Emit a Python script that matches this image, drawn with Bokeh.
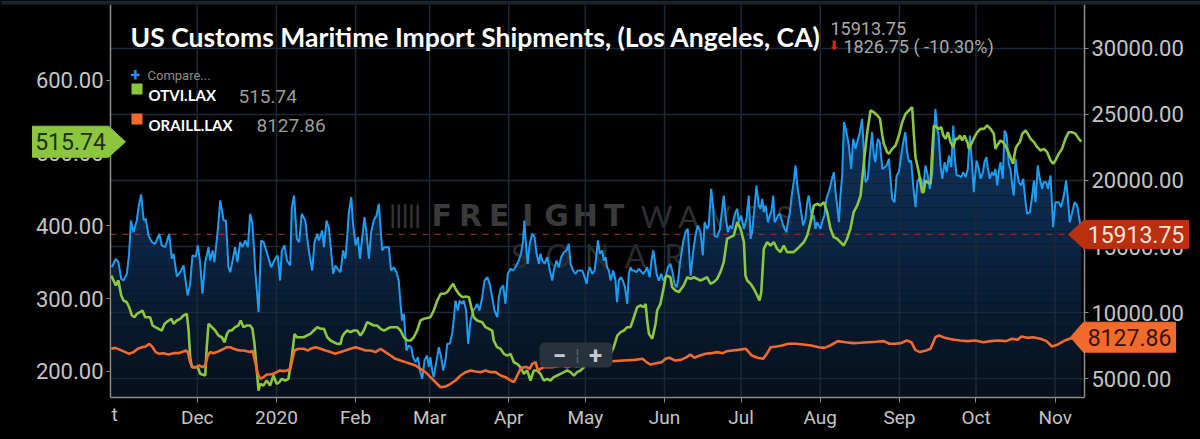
import numpy as np
import pandas as pd
from bokeh.plotting import figure
from bokeh.models import (Range1d, LinearAxis, FixedTicker, NumeralTickFormatter,
                          Label, PolyAnnotation, BoxAnnotation)
from bokeh.embed import file_html
from bokeh.resources import INLINE

try:
    from bokeh.models import GlobalInlineStyleSheet
except Exception:
    GlobalInlineStyleSheet = None

# ---------------- data ----------------
START = pd.Timestamp("2019-10-28")          # left edge of the plot area
END = pd.Timestamp("2020-11-12 12:00")      # right edge of the plot area

month_ticks = ["2019-12-01", "2020-01-01", "2020-02-01", "2020-03-01", "2020-04-01", "2020-05-01",
               "2020-06-01", "2020-07-01", "2020-08-01", "2020-09-01", "2020-10-01", "2020-11-01"]
month_labels = ["Dec", "2020", "Feb", "Mar", "Apr", "May", "Jun", "Jul", "Aug", "Sep", "Oct", "Nov"]

left_ticks = [200, 300, 400, 500, 600]
right_ticks = [5000, 10000, 15000, 20000, 25000, 30000]
left_range = (164.0, 704.5)
right_range = (3561.0, 33333.0)

TITLE = "US Customs Maritime Import Shipments, (Los Angeles, CA)"
LAST_SHIP = 15913.75
CHANGE = "1826.75 ( -10.30%)"
LAST_OTVI = 515.74
LAST_ORAIL = 8127.86

# days since 2019-10-28
blue_days = [0.5, 2.1, 3.1, 4.2, 5.1, 6.4, 7.3, 8.0, 9.0, 10.3, 11.0, 12.0, 13.0, 13.8, 14.9, 16.2, 17.5,
             19.1, 20.1, 21.4, 23.0, 24.0, 24.7, 26.0, 27.3, 28.6, 30.2, 31.2, 32.1, 33.4, 34.2, 35.1, 36.0,
             37.1, 38.4, 39.0, 40.0, 40.7, 42.0, 43.0, 44.3, 45.2, 46.2, 46.9, 47.8, 48.8, 49.7, 50.8, 51.7,
             52.8, 53.8, 54.7, 55.6, 56.7, 58.0, 59.0, 60.0, 61.2, 62.9, 64.5, 65.5, 66.4, 67.1, 68.2, 69.1,
             70.4, 71.0, 71.9, 73.0, 73.9, 74.9, 76.3, 77.3, 78.1, 79.0, 79.9, 81.0, 81.6, 82.3, 82.9, 83.6,
             84.6, 85.5, 86.4, 87.2, 88.1, 89.0, 90.1, 91.1, 92.0, 92.7, 93.3, 94.3, 95.0, 96.0, 96.9, 97.7,
             98.6, 99.5, 100.3, 101.2, 102.1, 103.1, 104.2, 105.1, 106.4, 107.3, 109.0, 109.9, 111.0, 112.0,
             112.9, 113.6, 114.2, 114.9, 115.9, 116.8, 117.8, 118.5, 119.5, 120.4, 121.2, 122.1, 123.0, 124.0,
             124.7, 125.3, 126.0, 126.6, 127.7, 128.6, 129.5, 130.3, 131.2, 131.9, 132.9, 133.8, 134.4, 135.1,
             136.0, 136.8, 137.8, 138.4, 139.3, 140.1, 141.0, 142.1, 143.0, 143.6, 144.5, 145.6, 146.5, 147.6,
             148.5, 149.5, 150.4, 151.5, 152.1, 152.8, 153.8, 154.7, 155.6, 156.7, 157.7, 158.6, 159.9, 160.8,
             161.6, 162.1, 162.9, 163.4, 164.2, 165.2, 166.1, 166.9, 167.8, 168.4, 169.1, 170.0, 171.1, 172.1,
             173.0, 173.6, 174.7, 175.6, 176.5, 177.6, 178.6, 179.5, 180.2, 181.2, 182.1, 183.0, 184.8, 185.7,
             186.5, 187.1, 187.7, 188.7, 189.6, 190.4, 190.9, 191.7, 192.6, 193.2, 193.9, 194.5, 195.2, 195.9,
             196.9, 197.8, 198.4, 199.1, 199.8, 200.7, 201.5, 202.4, 203.0, 203.7, 204.3, 205.2, 206.0, 206.9,
             207.6, 208.6, 209.6, 210.2, 211.2, 211.9, 212.6, 213.2, 213.9, 214.8, 215.7, 216.5, 217.4, 218.3,
             219.3, 220.0, 220.9, 221.7, 222.3, 223.0, 224.3, 225.2, 226.1, 227.2, 228.2, 229.1, 230.0, 231.1,
             232.0, 232.7, 233.7, 234.3, 235.3, 236.1, 236.6, 237.6, 238.7, 239.6, 240.2, 240.9, 241.8, 242.6,
             243.5, 244.1, 244.8, 245.5, 246.1, 247.0, 248.1, 249.1, 250.0, 250.7, 251.3, 252.2, 253.0, 253.9,
             254.6, 255.3, 255.9, 256.6, 257.5, 258.2, 258.8, 259.6, 260.1, 260.9, 261.4, 262.2, 263.1, 264.0,
             264.8, 265.3, 266.1, 267.0, 267.6, 268.3, 269.0, 269.6, 270.5, 271.3, 272.2, 272.9, 273.5, 274.2,
             274.8, 275.5, 276.1, 276.8, 277.4, 278.1, 278.7, 279.6, 280.4, 281.3, 282.0, 282.6, 283.3, 284.0,
             284.6, 285.3, 285.9, 286.6, 287.3, 288.0, 289.2, 290.1, 290.9, 291.8, 292.5, 293.5, 294.4, 295.0,
             295.7, 296.6, 297.4, 298.3, 299.0, 299.6, 300.5, 301.3, 302.3, 303.2, 304.0, 304.9, 305.5, 306.2,
             307.1, 307.9, 308.8, 309.7, 310.5, 311.3, 312.0, 312.8, 313.6, 314.4, 315.3, 316.0, 316.6, 317.5,
             318.3, 319.2, 320.1, 320.9, 321.9, 322.5, 323.1, 323.8, 324.4, 325.1, 325.8, 326.7, 327.5, 328.4,
             329.3, 330.1, 330.6, 331.4, 332.3, 333.2, 334.0, 334.9, 335.8, 336.6, 337.5, 338.1, 339.2, 340.1,
             340.8, 341.7, 342.3, 343.1, 343.6, 344.4, 345.3, 346.0, 346.6, 347.3, 347.9, 348.6, 349.5, 350.2,
             351.0, 351.9, 352.5, 353.2, 353.8, 354.5, 355.1, 355.8, 356.7, 357.5, 358.4, 359.0, 360.1, 361.0,
             361.7, 362.3, 363.2, 364.0, 364.9, 365.5, 366.5, 367.2, 368.2, 369.2, 370.1, 371.4, 372.3, 373.4,
             374.3, 374.9, 375.7, 376.7, 377.6, 378.6, 379.7, 380.2]
blue_vals = [13430, 14070, 13810, 12550, 12420, 12930, 14450, 16970, 16080, 16970, 17980, 18940, 16970, 17100,
             15830, 15330, 15200, 15960, 15080, 14950, 15960, 14070, 14450, 12730, 13050, 13560, 11290, 12170,
             14320, 14240, 15080, 13810, 11420, 13810, 14950, 13940, 14700, 13810, 16210, 18490, 16970, 16970,
             13430, 13050, 13940, 14950, 13810, 15330, 14950, 15460, 14950, 17480, 16720, 13180, 10020, 15460,
             15330, 14570, 13430, 14070, 14320, 12420, 14700, 15080, 13940, 13560, 17980, 18860, 15580, 15330,
             17480, 16970, 15200, 14190, 13180, 15330, 15960, 15460, 15830, 16210, 14950, 16970, 16460, 14700,
             12930, 13560, 13310, 13050, 14700, 14070, 15710, 17480, 18740, 16720, 15080, 15710, 14070, 15710,
             17230, 15960, 14070, 16090, 16970, 17350, 18230, 14700, 14950, 14950, 13180, 13430, 13050, 12420,
             10660, 9390, 9900, 7120, 7500, 7370, 6620, 6240, 6620, 5610, 4980, 6360, 6740, 5860, 6620, 5610,
             5100, 6360, 7370, 6620, 5610, 6360, 7630, 7630, 8380, 9390, 10910, 10150, 10910, 10660, 10910,
             10150, 7630, 9390, 10150, 10400, 10660, 10150, 11160, 12420, 12680, 12170, 11160, 10150, 9650,
             11160, 11790, 12050, 10660, 12930, 13310, 13180, 13430, 13940, 14450, 15460, 16970, 14700, 13690,
             15200, 15960, 15710, 14450, 13690, 14450, 13940, 13690, 14190, 13180, 12420, 13180, 13940, 13430,
             14190, 14570, 14700, 15200, 13690, 13180, 12930, 13180, 13180, 12680, 12170, 13050, 13430, 12930,
             13180, 14450, 15460, 14450, 14700, 13940, 14190, 13430, 13180, 12420, 13180, 12420, 10780, 12420,
             12680, 12420, 11920, 10660, 12930, 13430, 13180, 13180, 13050, 13310, 13180, 12930, 13180, 13430,
             12680, 13940, 14700, 13940, 12930, 12420, 12930, 12420, 12680, 13430, 13690, 13180, 12170, 11920,
             12420, 13690, 15330, 16090, 16340, 12800, 14570, 15830, 16590, 16090, 14320, 16840, 16340, 16590,
             19370, 17860, 15830, 15710, 16340, 17860, 18860, 17350, 16090, 16590, 16340, 17100, 17600, 17860,
             16840, 17350, 16340, 17100, 18860, 15580, 16090, 17860, 19620, 18110, 17860, 18610, 17600, 18110,
             16840, 17350, 17600, 18860, 16840, 17100, 17350, 17480, 16840, 16340, 16090, 16840, 17600, 19120,
             19870, 21140, 19620, 18860, 17600, 16590, 17100, 18360, 18860, 17860, 17100, 17350, 16340, 16840,
             16590, 16340, 16840, 17350, 18610, 19120, 19620, 20130, 20630, 19120, 18110, 16840, 18860, 20380,
             24420, 23910, 22650, 20880, 23160, 22400, 22910, 23660, 24670, 22400, 19870, 20130, 21890, 23660,
             21890, 21390, 23160, 22910, 20880, 21010, 21140, 21640, 20130, 18610, 18360, 20380, 20630, 21890,
             22900, 23660, 22150, 21390, 21510, 19620, 17980, 19870, 20130, 20130, 19370, 21140, 20380, 19370,
             20630, 23160, 25430, 23910, 23410, 21140, 20130, 21390, 20630, 21890, 21010, 24170, 21890, 20380,
             20380, 20250, 20630, 20250, 20880, 23410, 21140, 19120, 21510, 20880, 20130, 20630, 21390, 21770,
             21010, 20130, 20630, 20380, 20880, 19620, 20630, 21390, 20130, 23790, 23410, 21140, 20880, 19620,
             18860, 21640, 20630, 19870, 19620, 20130, 18360, 17480, 17600, 18860, 20000, 18360, 21140, 20130,
             19370, 19870, 19870, 19370, 20380, 16470, 18360, 18360, 17980, 18860, 20000, 18860, 16840, 17600,
             18360, 18110, 16840, 15913.75]

green_days = [0.3, 1.2, 2.1, 3.1, 4.2, 5.1, 6.4, 7.3, 8.4, 9.4, 10.3, 11.6, 12.5, 13.6, 15.5, 16.5, 17.5, 18.8,
              20.1, 21.2, 22.4, 23.8, 24.7, 26.0, 27.3, 28.6, 29.9, 30.6, 31.2, 31.9, 34.2, 35.1, 37.1, 37.7,
              38.4, 39.7, 41.0, 42.3, 43.6, 44.7, 45.6, 46.5, 47.5, 48.8, 50.1, 51.0, 52.1, 53.4, 54.7, 55.6,
              56.4, 57.3, 58.0, 58.6, 59.9, 61.2, 62.5, 63.8, 65.1, 66.1, 67.1, 68.4, 69.7, 71.0, 72.1, 73.0,
              74.3, 75.6, 76.9, 78.3, 79.6, 81.0, 82.3, 83.6, 84.9, 86.2, 87.5, 88.8, 90.1, 90.7, 91.4, 92.7,
              94.0, 95.3, 96.6, 97.9, 99.2, 100.5, 101.8, 103.1, 104.4, 105.8, 107.1, 108.4, 109.7, 112.3,
              113.6, 114.9, 116.2, 117.5, 118.8, 120.1, 121.4, 122.7, 125.3, 126.6, 128.0, 129.3, 130.6, 131.9,
              133.2, 134.2, 135.1, 136.4, 137.8, 139.1, 140.4, 141.3, 142.3, 143.6, 145.6, 146.9, 148.2, 149.5,
              150.1, 151.4, 152.8, 154.1, 155.4, 156.7, 158.0, 159.3, 160.6, 161.9, 163.2, 164.5, 165.8, 167.1,
              168.4, 169.7, 171.1, 172.3, 173.6, 174.9, 176.3, 177.6, 178.9, 180.2, 181.5, 182.8, 184.1, 185.4,
              186.7, 188.0, 190.6, 193.2, 195.9, 197.1, 198.5, 199.8, 201.1, 202.4, 203.7, 205.0, 206.3, 207.6,
              208.9, 209.6, 210.2, 210.9, 212.2, 213.5, 214.1, 215.4, 216.7, 217.4, 218.0, 219.3, 220.0, 221.3,
              222.6, 224.5, 225.9, 227.2, 228.5, 231.1, 233.7, 235.0, 236.3, 237.6, 238.9, 240.2, 241.5, 242.8,
              244.1, 245.5, 246.8, 248.1, 248.7, 249.4, 250.7, 252.0, 253.3, 254.2, 254.9, 255.9, 257.2, 258.5,
              259.8, 261.1, 262.4, 263.7, 265.0, 267.6, 269.0, 270.3, 271.6, 272.9, 274.2, 275.5, 276.8, 278.1,
              279.4, 280.7, 282.0, 283.3, 284.6, 285.9, 287.2, 288.5, 289.8, 291.1, 292.5, 293.8, 295.1, 296.4,
              297.7, 299.0, 300.4, 301.4, 302.3, 302.9, 304.2, 304.9, 306.2, 307.5, 308.8, 310.1, 311.4, 312.7,
              314.0, 314.6, 315.3, 316.6, 317.9, 318.5, 319.2, 319.9, 321.2, 321.9, 322.5, 323.5, 324.5, 325.4,
              326.2, 327.1, 328.0, 329.0, 330.1, 331.0, 331.9, 332.7, 333.6, 334.5, 335.6, 336.2, 337.5, 338.4,
              339.5, 340.8, 342.1, 343.4, 344.7, 346.0, 346.6, 347.3, 348.6, 349.6, 350.5, 351.4, 352.5, 353.5,
              354.5, 355.1, 356.2, 357.1, 358.4, 359.3, 360.4, 361.7, 363.0, 364.3, 365.6, 366.9, 368.2, 369.2,
              370.1, 371.4, 372.7, 374.0, 375.3, 376.7, 378.0, 379.3, 380.2]
green_vals = [331.8, 324.9, 318.0, 325.0, 304.3, 297.4, 295.0, 288.2, 276.8, 274.4, 279.0, 281.3, 283.6, 274.4,
              274.4, 263.0, 260.7, 258.5, 256.1, 265.4, 268.9, 272.2, 265.4, 269.9, 272.2, 276.8, 279.0, 256.1,
              219.4, 205.6, 205.6, 196.6, 194.2, 233.2, 265.4, 260.7, 256.1, 249.2, 246.9, 240.0, 251.5, 256.1,
              256.1, 260.7, 263.0, 269.9, 260.7, 263.0, 263.0, 258.5, 237.8, 201.1, 173.6, 182.8, 180.5, 187.4,
              180.5, 194.2, 182.8, 185.0, 189.7, 187.4, 189.7, 219.4, 251.5, 246.9, 246.9, 246.9, 249.2, 251.5,
              256.1, 260.7, 258.5, 258.5, 246.9, 242.4, 240.0, 237.8, 237.8, 246.9, 251.5, 256.1, 253.8, 256.1,
              256.1, 249.2, 256.1, 267.6, 265.4, 263.0, 263.0, 258.5, 256.1, 258.5, 260.7, 260.7, 256.1, 246.9,
              242.4, 242.4, 246.9, 256.1, 269.9, 272.2, 274.4, 283.6, 297.4, 306.6, 306.6, 308.9, 315.7, 320.4,
              313.5, 306.6, 302.0, 302.9, 302.0, 288.2, 274.4, 269.9, 267.6, 260.7, 258.5, 256.1, 242.4, 233.2,
              230.9, 224.0, 221.7, 224.0, 212.5, 210.2, 205.6, 196.6, 201.1, 187.4, 201.1, 201.1, 196.6, 187.4,
              189.7, 187.4, 192.0, 194.2, 196.6, 198.8, 201.1, 198.8, 194.2, 198.8, 201.1, 205.6, 214.8, 219.4,
              214.8, 219.4, 224.0, 233.2, 249.2, 253.8, 256.1, 260.7, 260.7, 274.4, 288.2, 290.5, 288.2, 292.8,
              269.9, 251.5, 244.7, 265.4, 283.6, 292.8, 315.7, 329.4, 331.7, 329.4, 315.7, 311.1, 308.9, 318.0,
              329.4, 327.1, 329.4, 324.9, 329.4, 320.4, 322.6, 327.1, 336.4, 350.1, 382.3, 384.5, 386.8, 405.1,
              395.9, 377.7, 331.8, 324.9, 320.4, 313.5, 304.3, 297.4, 308.9, 368.5, 377.7, 373.1, 377.7, 368.5,
              363.9, 373.1, 363.9, 363.9, 368.5, 373.1, 377.7, 386.8, 405.1, 428.1, 430.4, 428.1, 432.7, 419.0,
              396.0, 384.5, 382.3, 377.7, 373.1, 382.3, 396.0, 419.0, 428.1, 441.8, 487.7, 528.9, 558.7, 556.4,
              551.8, 547.3, 524.3, 512.9, 501.4, 499.1, 506.0, 510.6, 524.3, 542.6, 554.1, 558.7, 563.3, 528.9,
              494.5, 473.9, 446.4, 446.4, 462.4, 460.2, 457.9, 506.0, 538.1, 535.8, 533.5, 535.8, 524.3, 519.7,
              528.9, 515.2, 508.3, 519.7, 519.7, 524.3, 517.5, 524.3, 515.2, 506.0, 515.2, 522.0, 528.9, 533.5,
              533.5, 538.1, 533.5, 526.6, 506.0, 510.6, 517.5, 515.2, 510.6, 503.7, 494.5, 485.4, 506.0, 510.6,
              515.2, 526.6, 531.2, 526.6, 519.7, 515.2, 508.3, 503.7, 506.0, 501.4, 490.0, 485.4, 490.0, 499.1,
              506.0, 519.7, 528.9, 528.9, 526.6, 519.7, 515.74]

orange_days = [0.3, 1.8, 3.8, 5.8, 7.3, 9.0, 10.7, 12.3, 13.8, 15.2, 16.5, 17.7, 19.1, 20.8, 22.7, 24.7, 26.6,
               27.9, 29.5, 30.3, 31.2, 32.1, 33.4, 34.7, 36.0, 37.1, 38.1, 39.0, 40.3, 41.6, 43.0, 44.3, 45.6,
               46.9, 48.2, 49.5, 50.8, 52.1, 53.4, 54.7, 55.6, 56.7, 57.7, 58.6, 59.9, 61.2, 62.5, 63.8, 65.1,
               66.4, 67.8, 69.1, 70.4, 71.3, 72.1, 73.6, 75.6, 77.3, 78.3, 80.3, 82.3, 84.2, 86.2, 88.1, 90.1,
               92.0, 94.0, 96.0, 97.9, 99.9, 101.8, 103.8, 105.8, 107.7, 109.7, 111.6, 113.6, 115.5, 117.5,
               119.5, 121.4, 123.4, 125.3, 127.3, 129.3, 131.2, 133.2, 135.1, 137.1, 139.1, 141.0, 143.0, 144.9,
               146.9, 148.8, 150.8, 152.8, 154.7, 156.7, 158.0, 159.3, 160.6, 161.9, 163.2, 164.2, 165.2, 166.5,
               167.4, 168.4, 169.7, 173.0, 174.9, 176.9, 178.9, 180.8, 182.8, 184.8, 186.7, 188.7, 190.6, 192.6,
               194.5, 196.4, 200.9, 205.4, 208.4, 209.9, 211.4, 213.7, 215.9, 217.4, 218.9, 221.2, 223.4, 225.7,
               227.1, 228.7, 230.9, 233.1, 235.4, 237.6, 239.9, 241.4, 243.6, 245.9, 248.9, 251.2, 253.4, 255.6,
               257.1, 258.6, 260.9, 263.1, 265.4, 268.4, 271.4, 274.4, 277.4, 279.6, 281.9, 284.9, 287.9, 290.9,
               293.8, 296.9, 299.8, 302.9, 305.1, 307.4, 309.6, 311.9, 313.7, 315.2, 317.1, 319.4, 321.2, 323.1,
               324.6, 326.8, 328.4, 330.6, 332.8, 335.8, 338.8, 341.8, 344.8, 347.8, 350.8, 353.1, 355.3, 356.8,
               359.1, 361.3, 364.3, 366.6, 368.8, 371.1, 373.3, 375.6, 379.0]
orange_vals = [7250, 7320, 7170, 7000, 6870, 7000, 7250, 7370, 7430, 7630, 7370, 7000, 6870, 6920, 6820, 6920,
               6920, 7000, 7120, 7000, 6240, 5860, 5860, 5990, 5860, 5990, 6740, 7000, 6920, 7000, 7120, 7250,
               7370, 7370, 7250, 7170, 7120, 7120, 7070, 7000, 7120, 6240, 5350, 4980, 5100, 5300, 5300, 5350,
               5480, 5610, 5560, 5610, 5730, 6490, 7120, 7250, 7250, 7120, 7250, 7370, 7250, 7120, 7000, 6870,
               7000, 7120, 7250, 7370, 7250, 7120, 7120, 7000, 7250, 7000, 6740, 6490, 6360, 6240, 6110, 5990,
               5730, 5480, 5100, 4720, 4340, 4390, 4600, 4850, 5230, 5480, 5610, 5530, 5480, 5610, 5480, 5480,
               5230, 5100, 4850, 4720, 5230, 5730, 5860, 5860, 5730, 6110, 6240, 5610, 5730, 5860, 5860, 5910,
               5990, 5860, 5990, 5910, 5990, 6060, 6110, 6160, 6160, 6240, 6310, 6360, 6410, 6490, 6240, 6060,
               6160, 6240, 6490, 6570, 6360, 6410, 6620, 6820, 6570, 6740, 6870, 6920, 7000, 6920, 7070, 7120,
               7170, 7250, 6740, 6570, 6490, 6870, 7370, 7420, 7500, 7630, 7630, 7580, 7500, 7370, 7320, 7500,
               7830, 7750, 7680, 7710, 7750, 7780, 7830, 7630, 7630, 7680, 7880, 7750, 7170, 7000, 7120, 7250,
               8130, 8260, 8080, 8010, 7930, 7880, 7830, 7880, 7750, 7830, 7880, 7830, 8010, 7930, 8180, 8080,
               8130, 8010, 7830, 7420, 7580, 7830, 8010, 8127.86]

# ---------------- geometry (page pixels) ----------------
W, H = 1200, 439
PA_L, PA_R, PA_T, PA_B = 110, 1084, 4, 397   # plot area inside the canvas


def extend(lo, hi, px_lo, px_hi, px_min, px_max):
    """linear range that maps [lo, hi] onto pixels [px_lo, px_hi], extended to [px_min, px_max]"""
    k = (hi - lo) / (px_hi - px_lo)
    return lo - (px_lo - px_min) * k, hi + (px_max - px_hi) * k


x0_ms = START.value / 1e6
x1_ms = END.value / 1e6
X_FULL = extend(x0_ms, x1_ms, PA_L, PA_R, 0, W)
L_FULL = extend(left_range[0], left_range[1], H - PA_B, H - PA_T, 0, H)
R_FULL = extend(right_range[0], right_range[1], H - PA_B, H - PA_T, 0, H)


def sy_left(v):
    return (H - PA_B) + (v - left_range[0]) / (left_range[1] - left_range[0]) * (PA_B - PA_T)


def sy_right(v):
    return (H - PA_B) + (v - right_range[0]) / (right_range[1] - right_range[0]) * (PA_B - PA_T)


def to_dt(days):
    return (START + pd.to_timedelta(np.asarray(days, dtype=float), unit="D")).values


p = figure(width=W, height=H, x_axis_type="datetime",
           x_range=Range1d(X_FULL[0], X_FULL[1]), y_range=Range1d(L_FULL[0], L_FULL[1]),
           output_backend="svg", toolbar_location=None,
           background_fill_color="#000000", border_fill_color="#000000",
           outline_line_color=None, min_border=0,
           min_border_left=0, min_border_right=0, min_border_top=0, min_border_bottom=0)
p.extra_y_ranges = {"right": Range1d(R_FULL[0], R_FULL[1])}

if GlobalInlineStyleSheet is not None:
    p.stylesheets = [GlobalInlineStyleSheet(css="html, body { background: #000000; }")]

AXIS_COL = "#8c8c8c"
LABEL_COL = "#c4c4c4"
GRID_COL = "#1b2937"

p.xgrid.visible = False
p.ygrid.visible = False

# x axis (drawn at the bottom edge of the plot area)
month_ms = [float(pd.Timestamp(m).value // 10**6) for m in month_ticks]
xax = p.xaxis[0]
xax.ticker = FixedTicker(ticks=month_ms, minor_ticks=[])
xax.major_label_overrides = {ms: lab for ms, lab in zip(month_ms, month_labels)}
xax.fixed_location = left_range[0]
xax.bounds = (x0_ms, x1_ms)
xax.major_tick_out = 5
xax.major_label_text_font_size = "19px"
xax.major_label_standoff = 3

# left axis
lax = p.yaxis[0]
lax.ticker = FixedTicker(ticks=left_ticks, minor_ticks=[])
lax.formatter = NumeralTickFormatter(format="0.00")
lax.fixed_location = x0_ms
lax.bounds = left_range
# right axis
rax = LinearAxis(y_range_name="right", ticker=FixedTicker(ticks=right_ticks, minor_ticks=[]),
                 formatter=NumeralTickFormatter(format="0.00"))
p.add_layout(rax, "right")
rax.fixed_location = x1_ms
rax.bounds = right_range
for ax in [lax, rax]:
    ax.major_tick_out = 4
    ax.major_label_text_font_size = "22px"
    ax.major_label_standoff = 3
for ax in [xax, lax, rax]:
    ax.axis_line_color = AXIS_COL
    ax.axis_line_width = 1.5
    ax.major_tick_line_color = AXIS_COL
    ax.major_tick_in = 0
    ax.minor_tick_line_color = None
    ax.major_label_text_font = "Roboto"
    ax.major_label_text_color = LABEL_COL


def lab(text, x, y, size, color, font="Roboto", style="normal", align="left",
        baseline="alphabetic", level="annotation"):
    l = Label(x=x, y=y, x_units="screen", y_units="screen", text=text,
              text_font=font, text_font_size=size, text_font_style=style,
              text_color=color, text_align=align, text_baseline=baseline, level=level)
    p.add_layout(l)
    return l


def sbox(l, r, t, b, color, radius=0, level="annotation"):
    p.add_layout(BoxAnnotation(left=l, right=r, top=t, bottom=b, left_units="screen",
                               right_units="screen", top_units="screen", bottom_units="screen",
                               fill_color=color, fill_alpha=1, line_color=None,
                               border_radius=radius, level=level))


# top strip
sbox(0, W, H, H - 4, "#1a2430")

# watermark (behind data); x = page px, y = H - page baseline
for i, ch in enumerate("FREIGHT"):
    lab(ch, 427 + 28.7 * (i + 0.5), H - 215, "30px", "#3a3a3a", font="DejaVu Sans", style="bold",
        align="center", level="underlay")
for i, ch in enumerate("WAVES"):
    lab(ch, 640 + 32 * (i + 0.5), H - 215, "31px", "#2e2e2e", font="Lato",
        align="center", level="underlay")
for i, ch in enumerate("SONAR"):
    lab(ch, 500 + 38.6 * (i + 0.5), H - 255, "32px", "#2b2b2b", font="Lato",
        align="center", level="underlay")
lab("|||||", 389, H - 214, "24px", "#353535", font="Lato", style="bold", level="underlay")

# blue area with vertical gradient
bx = to_dt(blue_days)
bv = np.asarray(blue_vals, dtype=float)
edges = list(np.arange(right_range[0], 27000.0, 900.0)) + [40000.0]
c0 = np.array([7, 15, 27])
c1 = np.array([16, 68, 124])
for k in range(len(edges) - 1):
    mid = 0.5 * (edges[k] + min(edges[k + 1], 27000.0))
    t = (mid - right_range[0]) / (right_range[1] - right_range[0])
    col = "#%02x%02x%02x" % tuple(int(round(v)) for v in (c0 + (c1 - c0) * t))
    p.varea(x=bx, y1=np.minimum(bv, edges[k]), y2=np.minimum(bv, edges[k + 1]),
            fill_color=col, fill_alpha=1.0, y_range_name="right", level="underlay")

# grid lines limited to the plot area
gx = np.array(month_ms)
p.segment(x0=gx, y0=[left_range[0]] * len(gx), x1=gx, y1=[left_range[1]] * len(gx),
          line_color=GRID_COL, line_width=1.5)
p.segment(x0=[x0_ms] * len(right_ticks), y0=right_ticks, x1=[x1_ms] * len(right_ticks), y1=right_ticks,
          line_color=GRID_COL, line_width=1.5, y_range_name="right")

# dashed last-value line
p.segment(x0=[x0_ms], y0=[LAST_SHIP], x1=[x1_ms], y1=[LAST_SHIP], line_color="#8a2d1b",
          line_width=1.2, line_dash="6 6", y_range_name="right")

# lines
p.line(bx, bv, line_color="#1e9cf2", line_width=2, y_range_name="right")
p.line(to_dt(green_days), green_vals, line_color="#8cc63e", line_width=2.6)
p.line(to_dt(orange_days), orange_vals, line_color="#f26a2c", line_width=2.6, y_range_name="right")


# value tags
def tag(tip_x, box_l, box_r, cy, hh, color, text, tcolor):
    if tip_x > box_r:
        xs = [box_l, box_r, tip_x, box_r, box_l]
    else:
        xs = [box_r, box_l, tip_x, box_l, box_r]
    ys = [cy + hh, cy + hh, cy, cy - hh, cy - hh]
    p.add_layout(PolyAnnotation(xs=xs, ys=ys, xs_units="screen", ys_units="screen",
                                fill_color=color, fill_alpha=1.0, line_color=color, line_alpha=1.0))
    lab(text, (box_l + box_r) / 2, cy, "23px", tcolor, align="center", baseline="middle")


tag(125, 32, 108, sy_left(LAST_OTVI), 15.5, "#8cc63e", f"{LAST_OTVI:.2f}", "#24300e")
tag(1068, 1083, 1188, sy_right(LAST_SHIP), 14, "#b9300f", f"{LAST_SHIP:.2f}", "#ffe4dc")
tag(1070, 1083, 1175, sy_right(LAST_ORAIL), 15, "#f26a2c", f"{LAST_ORAIL:.2f}", "#3a1506")

# title & header values
lab(TITLE, 130, H - 36, "26.5px", "#ffffff", font="Lato", style="bold")
lab(f"{LAST_SHIP:.2f}", 830, H - 28, "18px", "#a9a9a9")
lab("\u2b07", 828, H - 45, "13px", "#e3221b", font="DejaVu Sans")
lab(CHANGE, 843, H - 46, "18px", "#a9a9a9")

# legend
lab("+", 130, H - 74, "18px", "#2d8ff0", style="bold")
lab("Compare...", 147, H - 75, "13px", "#8d8d8d")
sbox(131, 142, H - 83, H - 94, "#8cc63e")
lab("OTVI.LAX", 148, H - 94, "15px", "#ffffff", font="Lato", style="bold")
lab(f"{LAST_OTVI:.2f}", 238, H - 96, "19px", "#9c9c9c")
sbox(131, 142, H - 113, H - 124, "#f26a2c")
lab("ORAILL.LAX", 148, H - 124, "15px", "#ffffff", font="Lato", style="bold")
lab(f"{LAST_ORAIL:.2f}", 256, H - 125, "19px", "#9c9c9c")

# zoom control
sbox(539, 612, H - 342, H - 367, "#27323d", radius=5)
lab("\u2212", 559, H - 355, "24px", "#c3cad1", style="bold", align="center", baseline="middle")
lab("+", 595, H - 355, "24px", "#c3cad1", style="bold", align="center", baseline="middle")
lab("\u00a6", 577, H - 355, "16px", "#56616c", align="center", baseline="middle")

# partially visible first tick label
lab("t", 111, H - 414, "19px", LABEL_COL)

open("out.html", "w").write(file_html(p, INLINE))
